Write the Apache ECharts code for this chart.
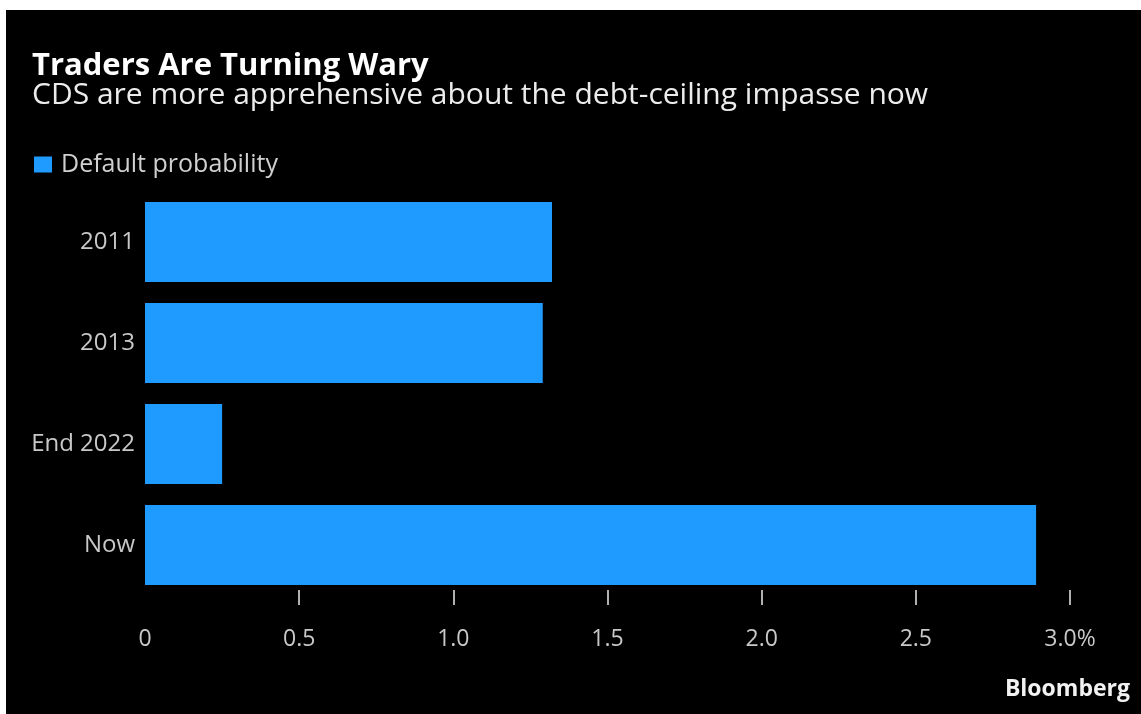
<!DOCTYPE html>
<html>
<head>
<meta charset="utf-8">
<script src="https://cdn.jsdelivr.net/npm/echarts@6/dist/echarts.min.js"></script>
<style>
  html, body { margin: 0; padding: 0; background: #fff; width: 1141px; height: 714px; overflow: hidden; }
  #chart { position: absolute; left: 6px; top: 10px; width: 1135px; height: 704px; }
</style>
</head>
<body>
<div id="chart"></div>
<script>
// Implied default probability from credit-default swaps, by episode
const categories = ['2011', '2013', 'End 2022', 'Now'];
const defaultProbability = [1.32, 1.29, 0.25, 2.89];
const tickValues = [0, 0.5, 1.0, 1.5, 2.0, 2.5, 3.0];
const tickLabels = ['0', '0.5', '1.0', '1.5', '2.0', '2.5', '3.0%'];

const FONT = '"Open Sans", "Noto Sans", sans-serif';
const BLUE = '#1f9bff';

const chart = echarts.init(document.getElementById('chart'), null, { renderer: 'canvas' });

chart.setOption({
  backgroundColor: '#000',
  animation: false,
  textStyle: { fontFamily: FONT },
  graphic: [
    {
      type: 'text', left: 26, top: 41,
      style: { text: 'Traders Are Turning Wary', fill: '#fff', font: 'bold 31px ' + FONT }
    },
    {
      type: 'text', left: 26, top: 70,
      style: { text: 'CDS are more apprehensive about the debt-ceiling impasse now', fill: '#ececec', font: '30px ' + FONT }
    },
    {
      type: 'text', right: 11, top: 668,
      style: { text: 'Bloomberg', fill: '#f2f2f2', font: 'bold 23px ' + FONT }
    }
  ],
  legend: {
    left: 23, top: 137,
    icon: 'rect', itemWidth: 18, itemHeight: 16, itemGap: 20,
    textStyle: { color: '#d0d0d0', fontSize: 25, fontFamily: FONT, padding: [0, 0, 0, 4] },
    data: ['Default probability']
  },
  grid: { left: 139, right: 71, top: 181.5, bottom: 118.5, containLabel: false },
  xAxis: {
    type: 'value',
    min: 0, max: 3, interval: 0.5,
    offset: -5.5,
    axisLine: { show: false },
    splitLine: { show: false },
    axisTick: {
      show: true, length: 15,
      customValues: tickValues.slice(1),
      lineStyle: { color: '#b0b0b0', width: 2 }
    },
    axisLabel: {
      color: '#c8c8c8', fontSize: 23, fontFamily: FONT, margin: 38,
      customValues: tickValues,
      formatter: function (v) {
        const i = tickValues.findIndex(t => Math.abs(t - v) < 1e-9);
        return i >= 0 ? tickLabels[i] : '';
      }
    }
  },
  yAxis: {
    type: 'category',
    data: categories,
    inverse: true,
    axisLine: { show: false },
    axisTick: { show: false },
    axisLabel: { color: '#c8c8c8', fontSize: 24, fontFamily: FONT, margin: 10 }
  },
  series: [{
    name: 'Default probability',
    type: 'bar',
    data: defaultProbability,
    barWidth: 80,
    itemStyle: { color: BLUE }
  }]
});
</script>
</body>
</html>
